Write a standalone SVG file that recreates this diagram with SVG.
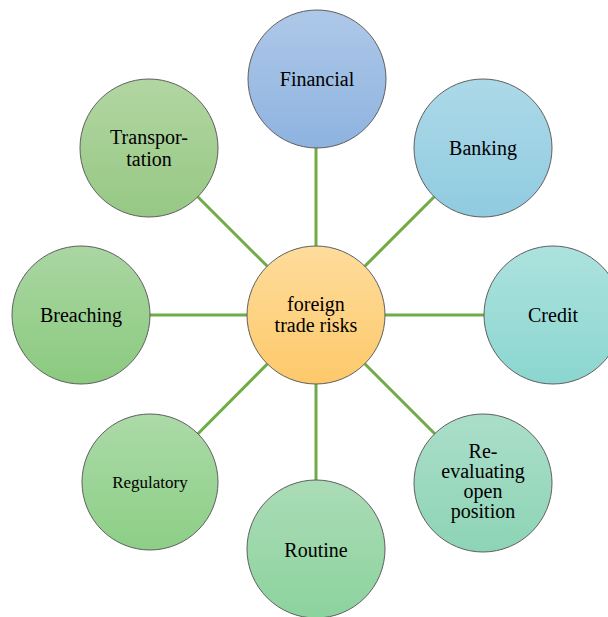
<svg xmlns="http://www.w3.org/2000/svg" width="608" height="617" viewBox="0 0 608 617">
<style>
.node circle{stroke:#5f5f5f;stroke-width:1}
.conn line{stroke:#6fac46;stroke-width:3}
text{font-family:"Liberation Serif","Times New Roman",serif;font-size:20px;fill:#000;text-anchor:middle}
</style>
<defs>
<linearGradient id="gc" x1="0" y1="0" x2="0" y2="1"><stop offset="0" stop-color="#fedc9c"/><stop offset="1" stop-color="#fdc96a"/></linearGradient>
<linearGradient id="g1" x1="0" y1="0" x2="0" y2="1"><stop offset="0" stop-color="#aec8e8"/><stop offset="1" stop-color="#8eb3e0"/></linearGradient>
<linearGradient id="g2" x1="0" y1="0" x2="0" y2="1"><stop offset="0" stop-color="#acd9e8"/><stop offset="1" stop-color="#90cbe0"/></linearGradient>
<linearGradient id="g3" x1="0" y1="0" x2="0" y2="1"><stop offset="0" stop-color="#ade2de"/><stop offset="1" stop-color="#8bd6d0"/></linearGradient>
<linearGradient id="g4" x1="0" y1="0" x2="0" y2="1"><stop offset="0" stop-color="#abdec9"/><stop offset="1" stop-color="#8dd4b6"/></linearGradient>
<linearGradient id="g5" x1="0" y1="0" x2="0" y2="1"><stop offset="0" stop-color="#abdcb6"/><stop offset="1" stop-color="#8cd39e"/></linearGradient>
<linearGradient id="g6" x1="0" y1="0" x2="0" y2="1"><stop offset="0" stop-color="#acdaa8"/><stop offset="1" stop-color="#8ccf86"/></linearGradient>
<linearGradient id="g7" x1="0" y1="0" x2="0" y2="1"><stop offset="0" stop-color="#aad6a2"/><stop offset="1" stop-color="#8bca7f"/></linearGradient>
<linearGradient id="g8" x1="0" y1="0" x2="0" y2="1"><stop offset="0" stop-color="#b2d6a2"/><stop offset="1" stop-color="#96c884"/></linearGradient>
</defs>
<rect width="608" height="617" fill="#fff"/>
<g class="conn" id="connectors">
<line x1="316" y1="315" x2="316" y2="79"/>
<line x1="316" y1="315" x2="483" y2="148"/>
<line x1="316" y1="315" x2="552" y2="315"/>
<line x1="316" y1="315" x2="483" y2="482"/>
<line x1="316" y1="315" x2="316" y2="549"/>
<line x1="316" y1="315" x2="150" y2="482"/>
<line x1="316" y1="315" x2="81" y2="315"/>
<line x1="316" y1="315" x2="149" y2="148"/>
</g>
<g class="node" id="center"><circle cx="316" cy="315" r="69" fill="url(#gc)"/><text x="316" y="311">foreign</text><text x="316" y="332">trade risks</text></g>
<g class="node" id="financial"><circle cx="317" cy="79" r="69" fill="url(#g1)"/><text x="317" y="86">Financial</text></g>
<g class="node" id="banking"><circle cx="483" cy="148" r="69" fill="url(#g2)"/><text x="483" y="155">Banking</text></g>
<g class="node" id="credit"><circle cx="553" cy="315" r="69" fill="url(#g3)"/><text x="553" y="322">Credit</text></g>
<g class="node" id="reevaluating"><circle cx="483" cy="483" r="69" fill="url(#g4)"/><text x="483" y="458">Re-</text><text x="483" y="478">evaluating</text><text x="483" y="498">open</text><text x="483" y="518">position</text></g>
<g class="node" id="routine"><circle cx="316" cy="549" r="69" fill="url(#g5)"/><text x="316" y="557">Routine</text></g>
<g class="node" id="regulatory"><circle cx="150" cy="482" r="68" fill="url(#g6)"/><text x="150" y="488" style="font-size:17px">Regulatory</text></g>
<g class="node" id="breaching"><circle cx="81" cy="315" r="69" fill="url(#g7)"/><text x="81" y="322">Breaching</text></g>
<g class="node" id="transportation"><circle cx="149" cy="148" r="69" fill="url(#g8)"/><text x="149" y="144">Transpor-</text><text x="149" y="166">tation</text></g>
</svg>
